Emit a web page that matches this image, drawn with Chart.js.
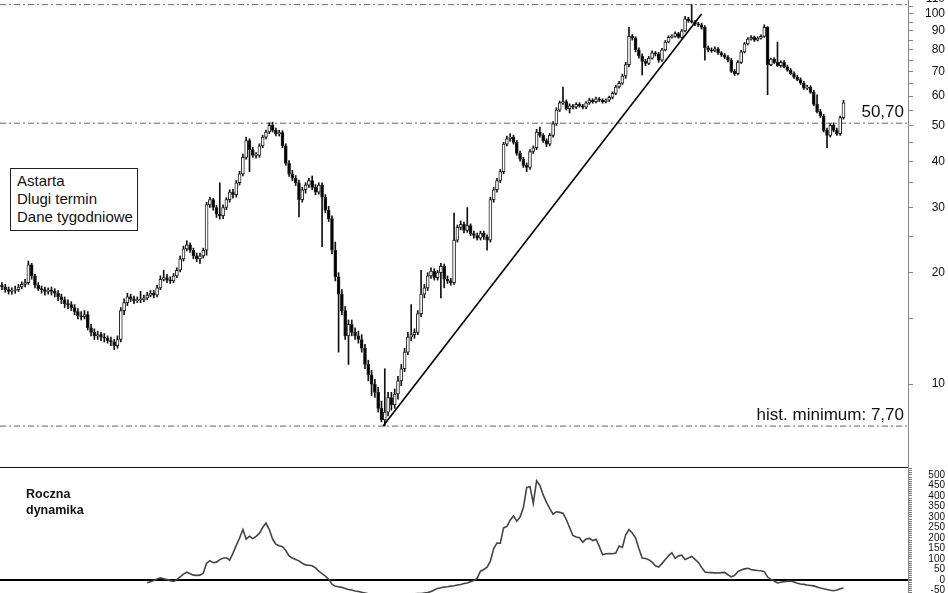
<!DOCTYPE html>
<html>
<head>
<meta charset="utf-8">
<title>Astarta - Dlugi termin</title>
<script src="https://cdn.jsdelivr.net/npm/chart.js@4.4.1/dist/chart.umd.min.js"></script>
<style>
  html, body { margin: 0; padding: 0; background: #fff; overflow: hidden; }
  body { width: 948px; height: 593px; position: relative; font-family: "Liberation Sans", Arial, sans-serif; color: #111; }
  #priceChart { position: absolute; left: 0; top: -26px; }
  #dynChart { position: absolute; left: 0; top: 443px; }
  .info { position: absolute; left: 10px; top: 168px; width: 128px; height: 63px; box-sizing: border-box;
          border: 1px solid #222; padding: 3px 0 0 6px; font-size: 15px; line-height: 18px; background: #fff; }
  .dynLabel { position: absolute; left: 26px; top: 486px; font-size: 12.5px; font-weight: bold; line-height: 16px; }
</style>
</head>
<body>
<canvas id="priceChart" width="948" height="515"></canvas>
<canvas id="dynChart" width="948" height="184"></canvas>
<div class="info">Astarta<br>Dlugi termin<br>Dane tygodniowe</div>
<div class="dynLabel">Roczna<br>dynamika</div>
<script>
// weekly candles (open = previous close)
const closes = [
  18.3, 18.0, 17.8, 17.9, 18.0, 18.3, 18.6, 18.8, 21.0, 19.6,
  18.5, 18.1, 18.0, 17.8, 17.9, 17.8, 17.6, 17.2, 16.9, 16.5,
  16.4, 16.1, 15.7, 15.3, 15.2, 15.4, 14.2, 13.8, 13.5, 13.6,
  13.4, 13.3, 13.1, 13.0, 12.7, 13.2, 15.8, 16.6, 17.2, 17.0,
  16.8, 16.9, 16.9, 17.1, 17.4, 17.6, 17.4, 18.2, 19.2, 19.4,
  19.1, 19.0, 19.6, 20.3, 21.8, 23.2, 23.8, 23.0, 22.2, 21.8,
  22.2, 23.0, 30.5, 31.5, 30.0, 28.8, 28.5, 30.0, 31.5, 33.0,
  32.5, 35.0, 37.0, 41.0, 45.5, 43.0, 41.5, 41.5, 44.0, 46.5,
  48.0, 50.0, 48.5, 47.5, 47.8, 44.0, 39.5, 37.0, 36.0, 35.0,
  31.5, 33.5, 34.5, 35.5, 34.0, 33.0, 34.5, 32.0, 29.5, 28.0,
  23.0, 19.5, 17.5, 15.8, 13.5, 14.5, 13.8, 13.5, 13.2, 12.5,
  11.3, 10.6, 10.0, 9.5, 8.6, 8.0, 8.4, 9.2, 8.8, 9.4,
  10.2, 11.0, 12.2, 13.4, 13.6, 13.8, 15.5, 17.5, 18.2, 19.6,
  20.2, 19.4, 20.0, 20.8, 19.2, 19.0, 18.8, 24.5, 26.5, 27.0,
  26.0, 26.8, 25.5, 25.2, 24.8, 25.6, 25.0, 24.5, 31.5, 33.5,
  35.5, 37.5, 44.5, 46.0, 46.5, 45.0, 42.0, 40.5, 39.0, 38.5,
  42.5, 43.5, 48.0, 47.0, 45.5, 44.5, 47.0, 50.5, 55.0, 57.5,
  58.0, 55.5, 56.5, 56.0, 57.0, 56.5, 56.0, 57.5, 58.5, 58.0,
  59.0, 58.5, 58.0, 58.5, 59.5, 61.0, 63.5, 65.0, 68.0, 73.0,
  87.0, 86.0, 80.0, 77.0, 74.5, 73.5, 76.0, 78.5, 78.0, 75.0,
  80.0, 84.0, 86.5, 87.0, 88.5, 86.5, 90.0, 97.0, 96.0, 95.0,
  94.0, 93.5, 92.0, 81.0, 80.0, 79.5, 80.5, 78.5, 77.5, 76.5,
  75.0, 70.0, 69.0, 74.0, 79.0, 83.0, 85.5, 86.5, 85.0, 86.0,
  87.0, 92.0, 73.0, 75.5, 74.0, 72.5, 74.0, 72.0, 70.5, 69.0,
  67.5, 66.5, 65.0, 63.0, 63.5, 61.5, 57.0, 54.5, 53.0, 48.5,
  47.0, 50.0, 48.5, 47.5, 52.5, 57.5
];
const highs = [
  18.8, 18.6, 18.3, 18.2, 18.4, 18.6, 18.9, 19.2, 21.5, 21.2,
  19.8, 18.8, 18.4, 18.3, 18.2, 18.3, 18.1, 17.9, 17.5, 17.2,
  16.9, 16.7, 16.4, 16.0, 15.7, 15.8, 15.7, 14.5, 14.1, 13.9,
  13.8, 13.7, 13.5, 13.4, 13.2, 13.5, 16.1, 17.0, 17.6, 17.5,
  17.3, 17.2, 17.8, 17.4, 17.7, 17.9, 17.9, 18.5, 19.6, 20.3,
  19.8, 19.5, 19.9, 20.6, 22.2, 23.6, 24.4, 24.1, 23.3, 22.6,
  22.6, 23.3, 31.0, 32.0, 31.8, 30.4, 35.0, 30.5, 31.9, 33.5,
  33.6, 35.5, 37.6, 41.8, 46.5, 46.0, 43.6, 42.2, 44.6, 47.0,
  48.6, 50.8, 51.0, 49.2, 48.5, 48.4, 44.6, 40.2, 37.8, 36.6,
  35.6, 34.0, 35.0, 36.0, 36.5, 34.6, 35.0, 35.0, 32.5, 30.2,
  28.5, 24.2, 20.0, 18.0, 16.2, 14.9, 14.9, 14.2, 13.9, 13.6,
  12.8, 11.6, 10.9, 10.3, 9.8, 9.0, 11.0, 9.5, 9.5, 9.7,
  10.5, 11.3, 12.5, 13.8, 16.4, 14.1, 15.8, 20.3, 18.6, 20.0,
  20.6, 20.5, 20.3, 21.2, 21.1, 19.6, 19.3, 29.0, 26.9, 27.6,
  27.4, 30.0, 27.1, 25.9, 25.6, 25.9, 25.9, 25.3, 32.0, 34.0,
  36.0, 38.0, 45.0, 46.8, 47.5, 47.0, 45.5, 42.6, 41.0, 39.6,
  43.0, 44.0, 48.8, 49.5, 47.5, 46.0, 47.6, 51.2, 55.8, 58.2,
  63.5, 58.6, 57.2, 57.0, 57.6, 57.6, 57.0, 58.0, 59.2, 59.0,
  59.6, 59.5, 59.0, 59.0, 60.0, 61.6, 64.2, 65.8, 68.8, 74.0,
  92.0, 88.0, 86.8, 81.0, 78.0, 75.5, 76.8, 79.5, 79.2, 78.8,
  80.8, 84.8, 87.3, 87.8, 89.5, 89.2, 90.8, 98.5, 98.0, 106.0,
  96.0, 95.0, 94.5, 93.0, 82.0, 81.0, 81.5, 81.2, 79.2, 78.2,
  77.2, 75.8, 70.8, 74.8, 79.8, 83.8, 86.3, 87.5, 87.2, 86.8,
  87.8, 93.5, 92.5, 76.0, 76.2, 84.0, 74.8, 74.8, 72.8, 71.2,
  69.8, 68.2, 67.2, 65.8, 64.2, 64.0, 62.2, 60.5, 55.2, 53.6,
  49.2, 50.6, 50.8, 49.2, 53.0, 58.5
];
const lows = [
  18.0, 17.7, 17.5, 17.5, 17.6, 17.8, 18.1, 18.3, 18.6, 19.2,
  18.2, 17.9, 17.6, 17.4, 17.5, 17.4, 17.2, 16.8, 16.5, 16.1,
  16.0, 15.8, 15.4, 15.0, 14.9, 15.0, 14.0, 13.5, 13.2, 13.2,
  13.1, 13.0, 12.9, 12.7, 12.4, 12.5, 13.0, 15.4, 16.3, 16.7,
  16.5, 16.6, 16.6, 16.7, 16.9, 17.2, 17.1, 17.2, 18.0, 19.0,
  18.8, 18.7, 18.8, 19.4, 20.1, 21.5, 22.9, 22.7, 21.8, 21.4,
  21.2, 21.9, 22.3, 30.0, 29.5, 28.2, 27.9, 28.0, 29.6, 31.0,
  31.8, 32.0, 34.5, 36.5, 40.5, 37.5, 41.0, 40.8, 41.0, 43.5,
  46.0, 47.5, 48.0, 46.8, 46.8, 43.5, 39.0, 36.4, 35.4, 34.4,
  28.3, 31.0, 32.8, 34.0, 33.5, 32.5, 32.6, 23.5, 29.0, 27.5,
  22.5, 19.0, 12.2, 15.4, 13.2, 11.3, 13.5, 13.2, 12.9, 12.2,
  11.0, 10.2, 9.3, 9.2, 8.4, 7.9, 7.7, 8.2, 8.5, 8.6,
  9.1, 9.9, 10.8, 12.0, 13.1, 13.3, 13.6, 15.2, 17.1, 17.9,
  19.3, 19.1, 19.1, 17.1, 18.2, 18.7, 18.5, 18.6, 24.2, 26.1,
  25.6, 25.7, 25.2, 24.8, 24.5, 24.5, 24.6, 23.0, 24.2, 31.0,
  33.0, 35.0, 37.0, 44.0, 45.3, 44.5, 41.5, 40.0, 38.5, 37.5,
  38.0, 42.0, 43.0, 46.5, 45.0, 43.8, 44.0, 46.5, 50.0, 54.5,
  57.0, 55.0, 54.0, 55.4, 55.5, 56.0, 55.4, 55.5, 57.0, 57.4,
  57.5, 58.0, 57.4, 57.5, 58.0, 59.0, 60.5, 63.0, 64.5, 67.0,
  72.0, 85.0, 79.0, 76.0, 68.4, 72.5, 73.0, 75.5, 77.0, 74.0,
  74.5, 79.5, 83.5, 86.0, 86.5, 86.0, 86.0, 89.5, 95.0, 94.5,
  93.0, 92.5, 91.0, 75.0, 79.0, 78.8, 79.0, 77.8, 76.8, 75.8,
  74.2, 69.5, 68.2, 68.5, 73.5, 78.5, 82.5, 85.0, 84.3, 84.5,
  85.5, 86.5, 60.5, 72.5, 73.5, 72.0, 71.8, 71.5, 70.0, 68.5,
  67.0, 66.0, 64.5, 62.5, 62.5, 61.0, 56.5, 54.0, 52.5, 48.0,
  43.5, 46.5, 48.0, 47.0, 47.0, 52.0
];
const firstOpen = 18.5;
const opens = closes.map((c, i) => (i === 0 ? firstOpen : closes[i - 1]));

// annual change in %, starts at week 44
const dynStart = 44;
const dynamics = [
  -13, -8, -3, 5, 10, 6, 2, -3, -7, 2,
  15, 28, 37, 30, 23, 22, 23, 33, 80, 92,
  82, 85, 97, 104, 106, 94, 128, 165, 200, 240,
  195, 208, 197, 208, 222, 250, 271, 240, 195, 170,
  163, 158, 140, 115, 105, 98, 91, 80, 72, 70,
  68, 58, 42, 30, 18, 4, -20, -30, -32, -35,
  -40, -45, -48, -52, -55, -58, -62, -66, -70, -74,
  -78, -82, -80, -77, -78, -76, -74, -72, -70, -68,
  -67, -66, -65, -64, -62, -60, -55, -48, -40, -37,
  -34, -32, -29, -27, -24, -21, -17, -14, -8, -3,
  9, 42, 50, 61, 90, 150, 176, 175, 248, 255,
  285, 305, 280, 300, 345, 440, 445, 365, 472, 450,
  405, 370, 340, 313, 325, 322, 318, 288, 250, 212,
  205, 201, 180, 195, 198, 188, 194, 160, 120, 125,
  126, 125, 128, 162, 155, 215, 240, 224, 200, 150,
  105, 102, 97, 85, 68, 62, 78, 98, 115, 130,
  103, 115, 118, 98, 105, 112, 98, 84, 60, 38,
  36, 35, 34, 33, 35, 36, 25, 15, 22, 40,
  48, 53, 56, 50, 47, 45, 44, 40, 14, 3,
  -5, -14, -11, -8, -6, -5, -10, -15, -19, -21,
  -24, -26, -28, -33, -38, -42, -45, -49, -51, -48,
  -42, -38
];

const priceTicks = [10, 20, 30, 40, 50, 60, 70, 80, 90, 100, 110];
const priceMinorTicks = [15, 25, 35, 45, 55, 65, 75, 85, 95, 105];
const dynTicks = [-50, 0, 50, 100, 150, 200, 250, 300, 350, 400, 450, 500];

const levels = [106, 50.7, 7.7];
const levelLabels = ['', '50,70', 'hist. minimum: 7,70'];
const trendLine = [{ x: 115.5, y: 7.7 }, { x: 212, y: 100 }];

const xMin = -0.6;
const xMax = 274.55;
const FONT = '"Liberation Sans", Arial, sans-serif';

Chart.defaults.font.family = FONT;
Chart.defaults.color = '#111';
Chart.defaults.animation = false;

// labels sitting on the dash-dot levels
const levelText = {
  id: 'levelText',
  afterDatasetsDraw(chart) {
    const { ctx, chartArea } = chart;
    const y = chart.scales.y;
    ctx.save();
    ctx.font = '17px ' + FONT;
    ctx.fillStyle = '#111';
    ctx.textAlign = 'right';
    ctx.textBaseline = 'alphabetic';
    levels.forEach((v, i) => {
      if (levelLabels[i]) ctx.fillText(levelLabels[i], chartArea.right - 4, y.getPixelForValue(v) - 6);
    });
    ctx.restore();
  }
};

// frame line on top of the lower panel
const topRule = {
  id: 'topRule',
  afterDraw(chart) {
    const { ctx, chartArea } = chart;
    ctx.save();
    ctx.strokeStyle = '#111';
    ctx.lineWidth = 1;
    ctx.beginPath();
    ctx.moveTo(chartArea.left, chartArea.top + 0.5);
    ctx.lineTo(chartArea.right, chartArea.top + 0.5);
    ctx.stroke();
    ctx.restore();
  }
};

const levelSets = levels.map(v => ({
  type: 'line',
  data: [{ x: xMin, y: v }, { x: xMax, y: v }],
  borderColor: '#666',
  borderWidth: 1,
  borderDash: [6, 3, 2, 3],
  pointRadius: 0,
  order: 3
}));

new Chart(document.getElementById('priceChart'), {
  type: 'bar',
  data: {
    datasets: [
      {
        type: 'line',
        data: trendLine,
        borderColor: '#000',
        borderWidth: 1.6,
        pointRadius: 0,
        order: 0
      },
      {
        data: closes.map((c, i) => ({ x: i, y: [opens[i], c] })),
        backgroundColor: closes.map((c, i) => (c >= opens[i] ? '#fff' : '#000')),
        borderColor: '#222',
        borderWidth: 1,
        borderSkipped: false,
        barThickness: 3,
        minBarLength: 1,
        grouped: false,
        order: 1
      },
      {
        data: closes.map((c, i) => ({ x: i, y: [lows[i], highs[i]] })),
        backgroundColor: '#111',
        barThickness: 1,
        grouped: false,
        order: 2
      },
      ...levelSets
    ]
  },
  options: {
    responsive: false,
    layout: { padding: { top: 22, bottom: 22, left: 0, right: 3 } },
    plugins: { legend: { display: false }, tooltip: { enabled: false } },
    scales: {
      x: { type: 'linear', min: xMin, max: xMax, offset: false, display: false },
      y: {
        type: 'logarithmic',
        position: 'right',
        min: 5.97,
        max: 111.85,
        afterBuildTicks: s => {
          s.ticks = [...priceTicks, ...priceMinorTicks].sort((a, b) => a - b).map(v => ({ value: v }));
        },
        afterFit: s => { s.width = 37; },
        ticks: {
          callback: v => (priceTicks.includes(v) ? String(v) : ''),
          crossAlign: 'far',
          padding: 12,
          autoSkip: false,
          font: { size: 12 },
          color: '#111'
        },
        grid: { drawOnChartArea: false, tickLength: 5, color: '#888' },
        border: { color: '#888' }
      }
    }
  },
  plugins: [levelText]
});

const dynMinor = [];
for (let v = -100; v <= 530; v += 10) dynMinor.push(v);

new Chart(document.getElementById('dynChart'), {
  type: 'line',
  data: {
    datasets: [{
      data: dynamics.map((v, k) => ({ x: dynStart + k, y: v })),
      borderColor: '#444',
      borderWidth: 1.6,
      pointRadius: 0,
      tension: 0
    }]
  },
  options: {
    responsive: false,
    layout: { padding: { top: 24, bottom: 24, left: 0, right: 3 } },
    plugins: { legend: { display: false }, tooltip: { enabled: false } },
    scales: {
      x: { type: 'linear', min: xMin, max: xMax, offset: false, display: false },
      y: {
        position: 'right',
        min: -109.5,
        max: 538,
        afterBuildTicks: s => { s.ticks = dynMinor.map(v => ({ value: v })); },
        afterFit: s => { s.width = 37; },
        ticks: {
          callback: v => (dynTicks.includes(v) ? String(v) : ''),
          crossAlign: 'far',
          padding: 16,
          autoSkip: false,
          font: { size: 10 },
          color: '#111'
        },
        grid: {
          color: ctx => (ctx.tick && ctx.tick.value === 0 ? '#000' : 'rgba(0,0,0,0)'),
          lineWidth: ctx => (ctx.tick && ctx.tick.value === 0 ? 2 : 1),
          tickColor: '#777',
          tickLength: 4
        },
        border: { color: '#888' }
      }
    }
  },
  plugins: [topRule]
});
</script>
</body>
</html>
